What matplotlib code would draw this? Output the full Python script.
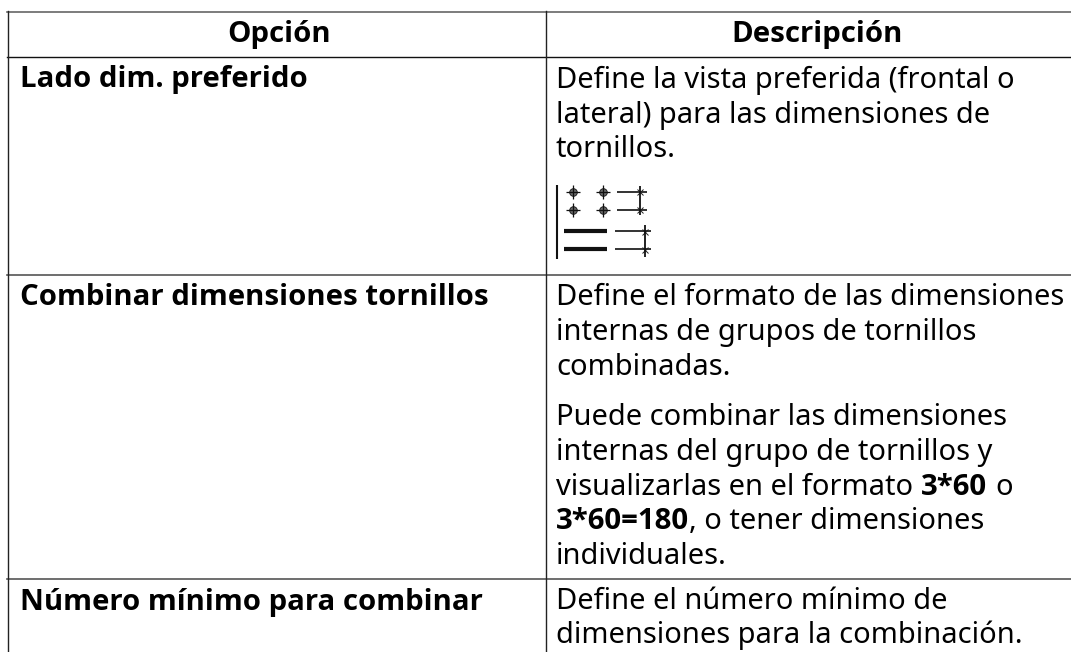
import matplotlib
matplotlib.use("Agg")
import matplotlib.pyplot as plt

W, H = 1071, 652
FONT = "Noto Sans"
BOLD_FONT = "Open Sans"
SIZE = 20.9
BOLD_SIZE = 21.15

headers = ["Opción", "Descripción"]
options = ["Lado dim. preferido", "Combinar dimensiones tornillos", "Número mínimo para combinar"]
desc_lines = [
    ("Define la vista preferida (frontal o", 88),
    ("lateral) para las dimensiones de", 123),
    ("tornillos.", 157),
    ("Define el formato de las dimensiones", 305),
    ("internas de grupos de tornillos", 340),
    ("combinadas.", 375),
    ("Puede combinar las dimensiones", 425),
    ("internas del grupo de tornillos y", 460),
    ("individuales.", 564),
    ("Define el número mínimo de", 609),
    ("dimensiones para la combinación.", 643),
]

fig = plt.figure(figsize=(W / 100, H / 100), dpi=100)
ax = fig.add_axes([0, 0, 1, 1])
ax.set_xlim(0, W)
ax.set_ylim(H, 0)
ax.axis("off")


def txt(x, y, s, bold=False, ha="left"):
    return ax.text(x, y, s, fontsize=BOLD_SIZE if bold else SIZE, family=BOLD_FONT if bold else FONT,
                   color="black", ha=ha, va="baseline", fontweight="bold" if bold else "normal")


def runs(x, y, parts):
    r = fig.canvas.get_renderer()
    for s, b in parts:
        t = txt(x, y, s, b)
        bb = t.get_window_extent(r)
        x = bb.x1


# grid
ax.plot([7, W], [11.7, 11.7], color="#666666", lw=1.2)
ax.plot([7, W], [57, 57], color="#111111", lw=1)
ax.plot([7, W], [275, 275], color="#555555", lw=1.2)
ax.plot([7, W], [579, 579], color="#555555", lw=1.2)
ax.plot([7.5, 7.5], [11, H], color="#222222", lw=1)
ax.plot([545.5, 545.5], [11, H], color="#222222", lw=1)

txt(279, 42, headers[0], True, "center")
txt(817, 42, headers[1], True, "center")
for s, y in zip(options, [87, 305, 610]):
    txt(19.5, y, s, True)
for s, y in desc_lines:
    txt(556, y, s)
runs(556, 495, [("visualizarlas en el formato ", False), ("3*60", True)])
txt(995, 495, "o")
runs(556, 529, [("3*60=180", True), (", o tener dimensiones", False)])

# small dimension icon
ic = dict(color="#111111", solid_capstyle="butt")
ax.plot([556.6, 556.6], [185, 259], lw=1.5, **ic)
for y in (192, 210):
    for x in (573, 603):
        ax.plot(x, y, marker="o", ms=5.5, mfc="#666666", mec="#111111", mew=0.6)
        ax.plot(x, y, marker="+", ms=10, mec="#111111", mew=0.9)
    ax.plot([617, 647], [y, y], lw=1.2, **ic)
    ax.plot(640, y, marker="x", ms=5, mec="#222222", mew=0.7)
ax.plot([640, 640], [186, 215], lw=1.3, **ic)
for y in (231, 249):
    ax.plot([564, 607], [y, y], lw=3, **ic)
    ax.plot([614.5, 651], [y, y], lw=1.2, **ic)
    ax.plot(645, y + 1, marker="x", ms=5, mec="#222222", mew=0.7)
ax.plot([645, 645], [225, 257], lw=1.3, **ic)

fig.savefig("out.png", dpi=100)
